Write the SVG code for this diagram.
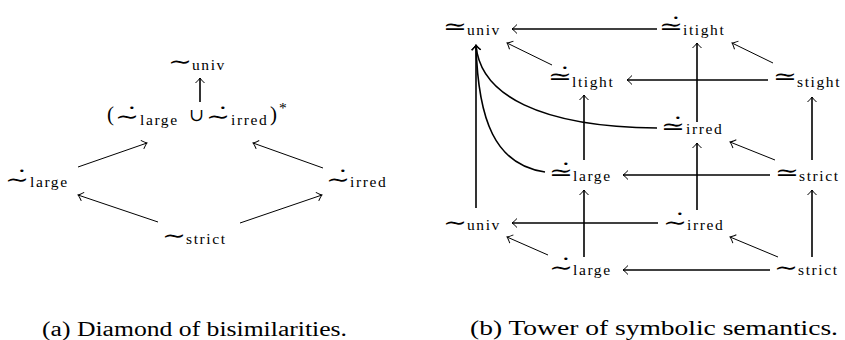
<svg xmlns="http://www.w3.org/2000/svg" width="845" height="340" viewBox="0 0 845 340">
<defs>
<style>
.m{font-family:"Liberation Serif","DejaVu Serif",serif;font-size:21px;fill:#000}
.y{font-family:"DejaVu Serif","DejaVu Sans",serif;font-size:22px}
.u{font-family:"DejaVu Serif","DejaVu Sans",serif;font-size:18px}
.s{font-family:"Liberation Serif","DejaVu Serif",serif;font-size:15.5px;letter-spacing:1.6px}
.cap{font-family:"Liberation Serif","DejaVu Serif",serif;font-size:20px;fill:#000}
.e{fill:none;stroke:#000;stroke-width:1.6;marker-end:url(#ah)}
.t{fill:none;stroke:#000;stroke-width:1;marker-end:url(#ah)}
</style>
<marker id="ah" viewBox="-6 -6 8 12" markerWidth="8" markerHeight="12" refX="0" refY="0" orient="auto" markerUnits="userSpaceOnUse">
<path d="M-5,-4.5 Q-1.5,-0.8 0,0 Q-1.5,0.8 -5,4.5" fill="none" stroke="#000" stroke-width="1"/>
</marker>
</defs>
<rect width="845" height="340" fill="#fff"/>
<g id="connectors">
<path class="e" d="M200,102 L200,78"/>
<path class="t" d="M78,167 L147,143"/>
<path class="t" d="M323,168 L253,143"/>
<path class="t" d="M158,222 L78,195"/>
<path class="t" d="M240,223 L322,195"/>
<path class="e" d="M657,29 L512,29"/>
<path class="t" d="M773,63 L732,43"/>
<path class="t" d="M552,65 L507,43"/>
<path class="e" d="M768,80 L627,80"/>
<path class="e" d="M697,122 L697,43"/>
<path class="e" d="M584,160 L584,95"/>
<path class="e" d="M812,160 L812,97"/>
<path class="e" d="M657,128 C540,127 480,95 476,45"/>
<path class="e" d="M545,172 C495,165 478,120 476,45"/>
<path class="e" d="M476,208 L476,45"/>
<path class="t" d="M775,160 L730,142"/>
<path class="e" d="M770,175 L623,175"/>
<path class="e" d="M697,210 L697,143"/>
<path class="e" d="M658,223 L512,223"/>
<path class="e" d="M584,257 L584,190"/>
<path class="e" d="M812,257 L812,190"/>
<path class="t" d="M548,255 L507,237"/>
<path class="t" d="M778,257 L730,237"/>
<path class="e" d="M770,270 L623,270"/>
</g>
<g id="a-univ"><text class="m"><tspan class="y" x="168" y="69" textLength="24" lengthAdjust="spacingAndGlyphs">∼</tspan><tspan class="s" x="192" y="70">univ</tspan></text></g>
<g id="a-union"><text class="m"><tspan x="107" y="121">(</tspan><tspan class="y" x="115" y="124" textLength="24" lengthAdjust="spacingAndGlyphs">∼̇</tspan><tspan class="s" x="140" y="125">large</tspan><tspan class="u" x="189" y="121">∪</tspan><tspan class="y" x="206" y="124" textLength="24" lengthAdjust="spacingAndGlyphs">∼̇</tspan><tspan class="s" x="231" y="125">irred</tspan><tspan x="270" y="121">)</tspan><tspan class="s" x="279" y="113">*</tspan></text></g>
<g id="a-large"><text class="m"><tspan class="y" x="5" y="187" textLength="24" lengthAdjust="spacingAndGlyphs">∼̇</tspan><tspan class="s" x="30" y="187">large</tspan></text></g>
<g id="a-irred"><text class="m"><tspan class="y" x="326" y="187" textLength="24" lengthAdjust="spacingAndGlyphs">∼̇</tspan><tspan class="s" x="350" y="187">irred</tspan></text></g>
<g id="a-strict"><text class="m"><tspan class="y" x="162" y="243" textLength="24" lengthAdjust="spacingAndGlyphs">∼</tspan><tspan class="s" x="186" y="244">strict</tspan></text></g>
<g id="b-suniv"><text class="m"><tspan class="y" x="443" y="34" textLength="24" lengthAdjust="spacingAndGlyphs">≃</tspan><tspan class="s" x="467" y="35">univ</tspan></text></g>
<g id="b-itight"><text class="m"><tspan class="y" x="659" y="34" textLength="24" lengthAdjust="spacingAndGlyphs">≃̇</tspan><tspan class="s" x="683" y="35">itight</tspan></text></g>
<g id="b-ltight"><text class="m"><tspan class="y" x="548" y="84" textLength="24" lengthAdjust="spacingAndGlyphs">≃̇</tspan><tspan class="s" x="572" y="87">ltight</tspan></text></g>
<g id="b-stight"><text class="m"><tspan class="y" x="773" y="84" textLength="24" lengthAdjust="spacingAndGlyphs">≃</tspan><tspan class="s" x="797" y="87">stight</tspan></text></g>
<g id="b-sirred"><text class="m"><tspan class="y" x="661" y="134" textLength="24" lengthAdjust="spacingAndGlyphs">≃̇</tspan><tspan class="s" x="686" y="134">irred</tspan></text></g>
<g id="b-slarge"><text class="m"><tspan class="y" x="549" y="180" textLength="24" lengthAdjust="spacingAndGlyphs">≃̇</tspan><tspan class="s" x="573" y="181">large</tspan></text></g>
<g id="b-sstrict"><text class="m"><tspan class="y" x="775" y="180" textLength="24" lengthAdjust="spacingAndGlyphs">≃</tspan><tspan class="s" x="799" y="181">strict</tspan></text></g>
<g id="b-univ"><text class="m"><tspan class="y" x="443" y="230" textLength="24" lengthAdjust="spacingAndGlyphs">∼</tspan><tspan class="s" x="467" y="230">univ</tspan></text></g>
<g id="b-irred"><text class="m"><tspan class="y" x="663" y="230" textLength="24" lengthAdjust="spacingAndGlyphs">∼̇</tspan><tspan class="s" x="687" y="230">irred</tspan></text></g>
<g id="b-large"><text class="m"><tspan class="y" x="549" y="275" textLength="24" lengthAdjust="spacingAndGlyphs">∼̇</tspan><tspan class="s" x="573" y="275">large</tspan></text></g>
<g id="b-strict"><text class="m"><tspan class="y" x="774" y="275" textLength="24" lengthAdjust="spacingAndGlyphs">∼</tspan><tspan class="s" x="798" y="275">strict</tspan></text></g>
<text class="cap" x="42" y="336" textLength="305" lengthAdjust="spacingAndGlyphs">(a) Diamond of bisimilarities.</text>
<text class="cap" x="470" y="335" textLength="368" lengthAdjust="spacingAndGlyphs">(b) Tower of symbolic semantics.</text>
</svg>
